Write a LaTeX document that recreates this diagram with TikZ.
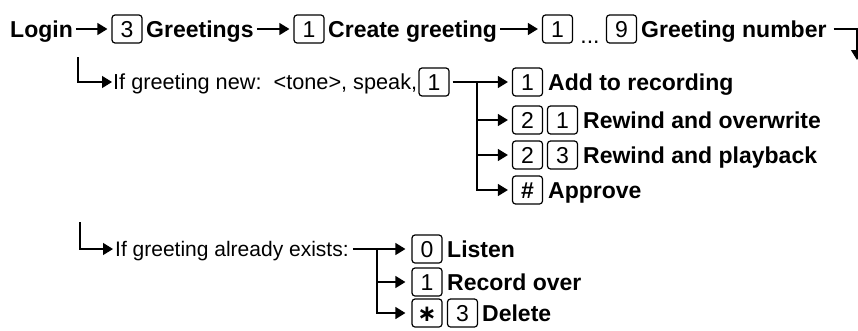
\documentclass[tikz,border=0pt]{standalone}
\usepackage{fontspec}
\setmainfont{Liberation Sans}
\newfontfamily\djvfont{DejaVu Sans}
\usetikzlibrary{arrows.meta}
\begin{document}
\begin{tikzpicture}[x=1pt,y=-1pt,
  lbl/.style={anchor=west,inner sep=0pt,font=\fontsize{23}{23}\selectfont\bfseries,text height=22pt,text depth=5.5pt},
  note/.style={anchor=west,inner sep=0pt,font=\fontsize{#1}{#1}\selectfont,text height=20pt,text depth=5pt},
  note/.default=21,
  key/.style={draw,line width=1.2pt,rounded corners=3pt,minimum width=30pt,minimum height=28pt,inner sep=0pt,font=\fontsize{23}{23}\selectfont,text height=16.5pt,text depth=0pt},
  dotsnode/.style={anchor=base,inner sep=0pt,font=\fontsize{23}{23}\selectfont},
  conn/.style={line width=1.3pt},
  arr/.style={conn,-{Triangle[length=10pt,width=12pt]}},
]
\useasboundingbox (0,0) rectangle (858,330);
% row 1
\node[lbl] (login) at (10,29) {Login};
\node[key] (k3) at (127,29) {3};
\node[lbl] (greet) at (146,29) {Greetings};
\node[key] (k1) at (309,29) {1};
\node[lbl] (create) at (328,29) {Create greeting};
\node[key] (k1b) at (557.5,29) {1};
\node[dotsnode] (dots) at (590,43) {...};
\node[key] (k9) at (621.5,29) {9};
\node[lbl] (gnum) at (641,29) {Greeting number};
\coordinate (c1) at (857,29);
\coordinate (c1e) at (857,60);
\draw[arr,shorten <=3pt,shorten >=4pt] (login.east) -- (k3.west);
\draw[arr,shorten <=3pt,shorten >=4pt] (greet.east) -- (k1.west);
\draw[arr,shorten <=3pt,shorten >=4pt] (create.east) -- (k1b.west);
\draw[arr,shorten <=7pt] (gnum.east) -- (c1) -- (c1e);
% row 2
\coordinate (s2) at (78,57);
\node[note=21.7] (new) at (113,82) {If greeting new:\ \ <tone>, speak,};
\draw[arr,shorten >=1pt] (s2) |- (new.west);
\node[key] (k1c) at (434,82) {1};
\coordinate (j2) at (477,82);
\node[key] (a1) at (527.5,82) {1};
\node[lbl] (add) at (548,82) {Add to recording};
\node[key] (o2) at (527.5,120) {2};
\node[key] (o1) at (562.5,120) {1};
\node[lbl] (over) at (583,120) {Rewind and overwrite};
\node[key] (p2) at (527.5,155) {2};
\node[key] (p3) at (562.5,155) {3};
\node[lbl] (play) at (583,155) {Rewind and playback};
\node[key] (h) at (527.5,190) {\bfseries\#};
\node[lbl] (appr) at (548,190) {Approve};
\draw[arr,shorten <=3pt,shorten >=4pt] (k1c.east) -- (a1.west);
\draw[arr,shorten >=4pt] (j2) |- (o2.west);
\draw[arr,shorten >=4pt] (j2) |- (p2.west);
\draw[arr,shorten >=4pt] (j2) |- (h.west);
% row 3
\coordinate (s3) at (80,222);
\node[note] (exists) at (115,249) {If greeting already exists:};
\draw[arr,shorten >=2pt] (s3) |- (exists.west);
\coordinate (j3) at (377,249);
\node[key] (l0) at (427,249) {0};
\node[lbl] (listen) at (447,249) {Listen};
\node[key] (r1) at (427,282) {1};
\node[lbl] (rec) at (447,282) {Record over};
\node[key] (dstar) at (427,313) {\djvfont\bfseries ∗};
\node[key] (d3) at (462.5,313) {3};
\node[lbl] (del) at (482,313) {Delete};
\draw[arr,shorten <=4pt,shorten >=6pt] (exists.east) -- (l0.west);
\draw[arr,shorten >=6pt] (j3) |- (r1.west);
\draw[arr,shorten >=6pt] (j3) |- (dstar.west);
\end{tikzpicture}
\end{document}
